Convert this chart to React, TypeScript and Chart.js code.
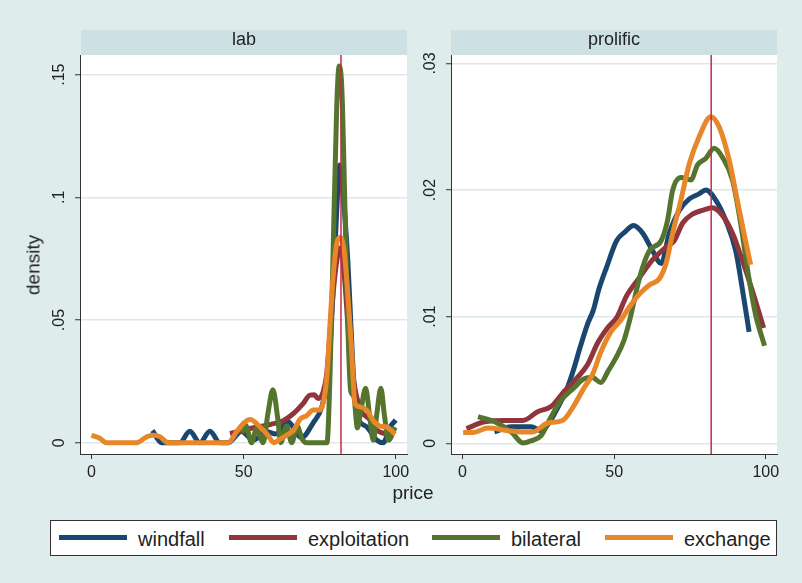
import React, { useEffect, useRef } from 'react';
import { Chart, registerables } from 'chart.js';

Chart.register(...registerables);

const FONT = "'Liberation Sans', Arial, Helvetica, sans-serif";
const BG = '#dfecec';
const STRIP = '#cde0e4';
const GRID = '#dde9e9';
const AXIS = '#333333';
const TEXT = '#222222';
const REF_COLOR = '#c62a48';

const seriesNames = ['windfall', 'exploitation', 'bilateral', 'exchange'];
const seriesColors = ['#1a476f', '#90353b', '#55752f', '#e8862a'];
const panelTitles = ['lab', 'prolific'];
const xAxisTitle = 'price';
const yAxisTitle = 'density';
const xTicks = [0, 50, 100];
const xTickLabels = ['0', '50', '100'];
const labYTicks = [0, 0.05, 0.1, 0.15];
const labYTickLabels = ['0', '.05', '.1', '.15'];
const prolificYTicks = [0, 0.01, 0.02, 0.03];
const prolificYTickLabels = ['0', '.01', '.02', '.03'];
const referencePrice = 82;

// ---- lab panel ----
const labWindfallX = [20, 23, 29, 32.3, 35.6, 38.9, 42.2, 44.8, 49.3, 53.2, 57.6, 60.5, 64.5, 69, 72.9, 75.7, 77.5, 78.5, 79.5, 80.5, 81.6, 82.4, 83.3, 84.2, 85.0, 85.8, 86.6, 87.5, 90.5, 93.8, 95.9, 98.1, 100];
const labWindfallY = [0.005, 0, 0, 0.0047, 0, 0.0047, 0, 0, 0.0046, 0.001, 0.0046, 0.0035, 0.0085, 0.002, 0.0082, 0.0146, 0.026, 0.04, 0.065, 0.092, 0.1132, 0.105, 0.092, 0.075, 0.055, 0.034, 0.018, 0.0105, 0.0064, 0.001, 0, 0.0064, 0.0092];

const labExploitationX = [45.5, 48, 51, 55, 59, 63, 66.4, 69.6, 71.8, 73.2, 74.5, 76.2, 77.3, 78.4, 79.5, 80.6, 81.6, 82.6, 83.6, 84.6, 85.6, 86.6, 87.5, 88.3, 90, 91.6, 93, 94.8, 97, 99.8];
const labExploitationY = [0.0037, 0.0045, 0.0055, 0.0065, 0.0075, 0.009, 0.0119, 0.016, 0.0194, 0.0195, 0.018, 0.021, 0.028, 0.045, 0.062, 0.074, 0.0793, 0.075, 0.06, 0.042, 0.03, 0.022, 0.017, 0.0132, 0.011, 0.0092, 0.006, 0.0044, 0.0037, 0.0051];

const labBilateralX = [49.5, 50.7, 52.6, 54.3, 56.4, 58, 59.6, 61.2, 62.2, 64.1, 65.8, 67.6, 69.2, 70.7, 77.4, 78.4, 79.5, 80.6, 81.4, 82.3, 83.3, 84.4, 85.2, 86.2, 87.4, 88.5, 90.1, 91.4, 92.6, 93.8, 95.1, 96.3, 97.6, 99.8];
const labBilateralY = [0.004, 0.007, 0, 0.006, 0, 0.012, 0.0216, 0.01, 0, 0.0068, 0, 0.0068, 0.0015, 0, 0, 0.028, 0.0825, 0.137, 0.1535, 0.1436, 0.096, 0.0418, 0.021, 0.019, 0.006, 0.013, 0.0222, 0.011, 0.001, 0.012, 0.0222, 0.011, 0.001, 0.0064];

const labExchangeX = [0, 2.7, 4.9, 14.8, 18.1, 20.3, 22.5, 25.2, 44.9, 47.7, 50, 52.1, 55.4, 58, 59.9, 62, 64.2, 66.4, 68.5, 70.7, 72.9, 75.1, 76.7, 77.5, 78.4, 79.5, 80.6, 81.7, 83, 84.4, 85.5, 86.6, 88.3, 90.5, 92.6, 94.8, 97, 99.8];
const labExchangeY = [0.0031, 0.0018, 0, 0, 0.0024, 0.003, 0.0024, 0, 0, 0.0045, 0.008, 0.0095, 0.0064, 0.003, 0, 0.0015, 0.0031, 0.005, 0.0095, 0.011, 0.0133, 0.0133, 0.02, 0.0295, 0.0486, 0.069, 0.0812, 0.0837, 0.0784, 0.058, 0.0377, 0.016, 0.0146, 0.0132, 0.009, 0.0068, 0.0064, 0.0035];

// ---- prolific panel ----
const proWindfallX = [10.5, 16, 22.6, 26, 29, 32, 34.6, 36.6, 38.8, 41.2, 43.1, 45, 47.5, 50.8, 53.6, 56.4, 59.4, 62.7, 65.5, 68.2, 71.5, 74.8, 78, 80.2, 83.5, 86.8, 90.1, 92.2, 94.5];
const proWindfallY = [0.0009, 0.0013, 0.0013, 0.001, 0.0018, 0.0031, 0.0044, 0.0058, 0.0076, 0.0094, 0.0105, 0.0122, 0.0139, 0.016, 0.0167, 0.0172, 0.0166, 0.0152, 0.0142, 0.0166, 0.0184, 0.0193, 0.0197, 0.02, 0.0192, 0.0176, 0.0152, 0.0123, 0.0088];

const proExploitationX = [1.3, 7.3, 13.9, 19.9, 24.8, 29.2, 33.5, 37.9, 41.2, 44.5, 47.8, 51, 54, 58.4, 62.7, 67.1, 69.8, 72.6, 75.8, 79.1, 82.4, 85.7, 89, 92.2, 95.5, 99.3];
const proExploitationY = [0.00116, 0.0017, 0.0018, 0.0018, 0.0025, 0.0029, 0.0041, 0.0052, 0.0062, 0.0079, 0.0091, 0.01, 0.0116, 0.0131, 0.0145, 0.0155, 0.016, 0.0174, 0.0181, 0.0184, 0.0186, 0.018, 0.0166, 0.0145, 0.0121, 0.0091];

const proBilateralX = [5.1, 10.6, 16.1, 19.9, 22.6, 25.9, 29.2, 32.5, 36.8, 40.1, 42.8, 45.6, 48, 50.7, 53.2, 55.1, 58.4, 61.6, 65.5, 67.6, 69.3, 72, 75.3, 77.5, 80.2, 83, 85.7, 89, 91.7, 94.4, 96.6, 99.6];
const proBilateralY = [0.0021, 0.0017, 0.0009, 0.00003, 0.0002, 0.0006, 0.0021, 0.0034, 0.0044, 0.0051, 0.0052, 0.0048, 0.0057, 0.0068, 0.0081, 0.0097, 0.0131, 0.0152, 0.016, 0.0176, 0.02, 0.021, 0.0208, 0.022, 0.0225, 0.0233, 0.0226, 0.0208, 0.0174, 0.0131, 0.0102, 0.0077];

const proExchangeX = [0.2, 3.5, 8.4, 15, 19.3, 23.2, 28.1, 33, 36.8, 40.1, 42.8, 45.6, 48.9, 52.1, 55.4, 58.4, 61.6, 64.9, 67.1, 69.3, 72, 74.8, 78, 81.9, 84.6, 87.9, 90.6, 92.8, 95];
const proExchangeY = [0.00085, 0.00085, 0.0012, 0.001, 0.0009, 0.0009, 0.0016, 0.0018, 0.003, 0.0044, 0.0054, 0.0072, 0.0088, 0.0097, 0.0109, 0.0118, 0.0125, 0.013, 0.0142, 0.0166, 0.0192, 0.0221, 0.0242, 0.0258, 0.025, 0.0224, 0.0192, 0.0166, 0.0141];

type Series = { x: number[]; y: number[] };

type PanelProps = {
  left: number;
  width: number;
  yAxisWidth: number;
  padRight: number;
  series: Series[];
  yMin: number;
  yMax: number;
  yTicks: number[];
  yTickLabels: string[];
};

const X_MIN = -3.8;
const X_MAX = 103.7;
const CANVAS_TOP = 30;
const PAD_TOP = 25;
const CANVAS_H = 465;
const X_AXIS_H = 41;

function Panel(props: PanelProps) {
  const ref = useRef<HTMLCanvasElement | null>(null);
  useEffect(() => {
    if (!ref.current) return;
    const { series, yMin, yMax, yTicks, yTickLabels, yAxisWidth, padRight } = props;
    const datasets: any[] = [
      {
        label: 'reference',
        data: [
          { x: referencePrice, y: yMin },
          { x: referencePrice, y: yMax },
        ],
        borderColor: REF_COLOR,
        borderWidth: 1.5,
        pointRadius: 0,
        order: 0,
      },
      ...series.map((s, i) => ({
        label: seriesNames[i],
        data: s.x.map((x, j) => ({ x, y: s.y[j] })),
        borderColor: seriesColors[i],
        backgroundColor: seriesColors[i],
        borderWidth: 5,
        pointRadius: 0,
        cubicInterpolationMode: 'monotone',
        fill: false,
        order: 4 - i,
      })),
    ];
    const plugin = {
      id: 'panelDecor',
      beforeDraw(chart: any) {
        const { ctx, chartArea: a } = chart;
        ctx.save();
        ctx.fillStyle = '#ffffff';
        ctx.fillRect(a.left, a.top, a.right - a.left, a.bottom - a.top);
        ctx.restore();
      },
      afterDraw(chart: any) {
        const ctx = chart.ctx;
        const xs = chart.scales.x;
        const ys = chart.scales.y;
        ctx.save();
        ctx.fillStyle = TEXT;
        ctx.font = `16px ${FONT}`;
        ctx.textAlign = 'center';
        ctx.textBaseline = 'alphabetic';
        xTicks.forEach((v, i) => {
          ctx.fillText(xTickLabels[i], xs.getPixelForValue(v), xs.top + 23);
        });
        yTicks.forEach((v, i) => {
          ctx.save();
          ctx.translate(ys.right - 20, ys.getPixelForValue(v));
          ctx.rotate(-Math.PI / 2);
          ctx.textBaseline = 'middle';
          ctx.fillText(yTickLabels[i], 0, 0);
          ctx.restore();
        });
        ctx.restore();
      },
    };
    const chart = new Chart(ref.current, {
      type: 'line',
      data: { datasets },
      options: {
        animation: false,
        responsive: false,
        maintainAspectRatio: false,
        layout: { padding: { left: 0, right: padRight, top: PAD_TOP, bottom: 0 } },
        plugins: {
          legend: { display: false },
          tooltip: { enabled: false },
          title: { display: false },
        },
        elements: { line: { borderJoinStyle: 'round' } },
        scales: {
          x: {
            type: 'linear',
            min: X_MIN,
            max: X_MAX,
            afterBuildTicks: (axis: any) => {
              axis.ticks = xTicks.map((v) => ({ value: v }));
            },
            afterFit: (axis: any) => {
              axis.height = X_AXIS_H;
            },
            ticks: { display: false },
            grid: { drawOnChartArea: false, drawTicks: true, tickLength: 5, tickColor: AXIS, tickWidth: 1 },
            border: { display: true, color: AXIS, width: 1 },
          },
          y: {
            type: 'linear',
            min: yMin,
            max: yMax,
            afterBuildTicks: (axis: any) => {
              axis.ticks = yTicks.map((v) => ({ value: v }));
            },
            afterFit: (axis: any) => {
              axis.width = yAxisWidth;
            },
            ticks: { display: false },
            grid: { color: GRID, lineWidth: 1.5, drawTicks: true, tickLength: 5, tickColor: AXIS, tickWidth: 1 },
            border: { display: true, color: AXIS, width: 1 },
          },
        },
      } as any,
      plugins: [plugin],
    });
    return () => chart.destroy();
  }, []);
  return (
    <canvas
      ref={ref}
      width={props.width}
      height={CANVAS_H}
      style={{ position: 'absolute', left: props.left, top: CANVAS_TOP, width: props.width, height: CANVAS_H }}
    />
  );
}

const labSeries: Series[] = [
  { x: labWindfallX, y: labWindfallY },
  { x: labExploitationX, y: labExploitationY },
  { x: labBilateralX, y: labBilateralY },
  { x: labExchangeX, y: labExchangeY },
];
const proSeries: Series[] = [
  { x: proWindfallX, y: proWindfallY },
  { x: proExploitationX, y: proExploitationY },
  { x: proBilateralX, y: proBilateralY },
  { x: proExchangeX, y: proExchangeY },
];

const legendSwatchX = [59, 229, 432, 605];
const legendTextX = [138, 308, 511, 684];

export default function App() {
  return (
    <div
      style={{
        position: 'absolute',
        left: 0,
        top: 0,
        width: 802,
        height: 583,
        background: BG,
        overflow: 'hidden',
        fontFamily: FONT,
        color: TEXT,
      }}
    >
      <Panel left={0} width={420} yAxisWidth={80} padRight={13} series={labSeries} yMin={-0.0046} yMax={0.158} yTicks={labYTicks} yTickLabels={labYTickLabels} />
      <Panel left={420} width={382} yAxisWidth={31} padRight={25} series={proSeries} yMin={-0.000845} yMax={0.03067} yTicks={prolificYTicks} yTickLabels={prolificYTickLabels} />

      {/* strips */}
      <div style={{ position: 'absolute', left: 81, top: 30, width: 326, height: 25, background: STRIP, textAlign: 'center', fontSize: 18, lineHeight: '18px' }}>
        {panelTitles[0]}
      </div>
      <div style={{ position: 'absolute', left: 451, top: 30, width: 326, height: 25, background: STRIP, textAlign: 'center', fontSize: 18, lineHeight: '18px' }}>
        {panelTitles[1]}
      </div>

      {/* axis titles */}
      <div style={{ position: 'absolute', left: 313, width: 200, top: 483, textAlign: 'center', fontSize: 19, lineHeight: '19px' }}>{xAxisTitle}</div>
      <div
        style={{
          position: 'absolute',
          left: 33,
          top: 265,
          fontSize: 19,
          lineHeight: '19px',
          whiteSpace: 'nowrap',
          transform: 'translate(-50%, -50%) rotate(-90deg)',
        }}
      >
        {yAxisTitle}
      </div>

      {/* legend */}
      <div style={{ position: 'absolute', left: 50, top: 520, width: 725, height: 34, background: '#ffffff', border: '1px solid #333333' }} />
      {seriesNames.map((name, i) => (
        <React.Fragment key={name}>
          <div style={{ position: 'absolute', left: legendSwatchX[i], top: 535, width: 68, height: 5, background: seriesColors[i] }} />
          <div style={{ position: 'absolute', left: legendTextX[i], top: 529, fontSize: 20, lineHeight: '20px', whiteSpace: 'nowrap' }}>{name}</div>
        </React.Fragment>
      ))}
    </div>
  );
}
